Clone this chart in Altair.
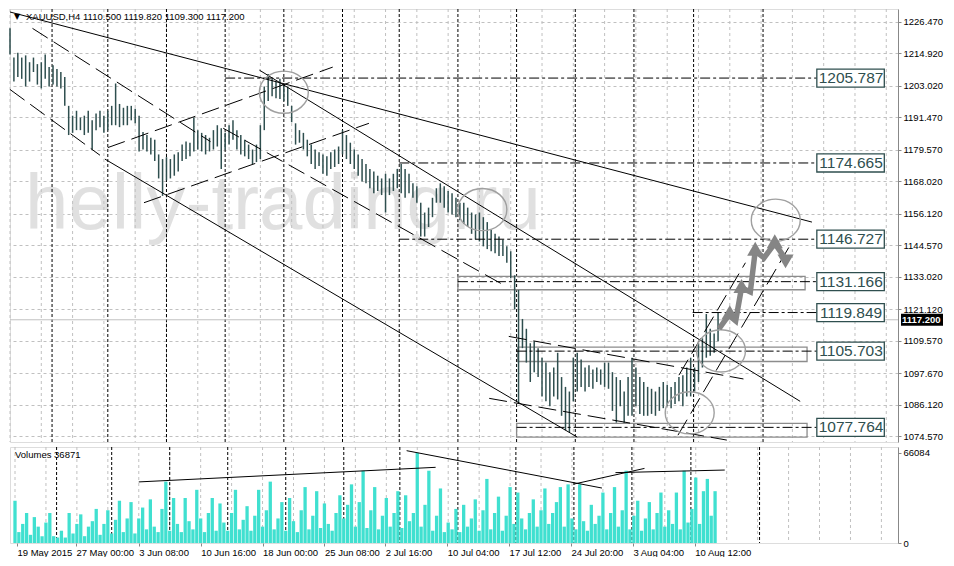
import altair as alt
import pandas as pd

W, HM, HV = 888, 433, 96

# ---------------- data ----------------
high = [
    1224.0, 1213.3, 1215.1, 1213.3, 1214.1, 1211.6, 1213.3, 1210.9, 1211.6, 1214.4,
    1209.8, 1210.5, 1209.1, 1208.0, 1206.2, 1195.6, 1192.0, 1193.8, 1191.3, 1192.0,
    1193.8, 1190.3, 1192.8, 1193.8, 1192.0, 1193.8, 1195.6, 1203.8, 1196.3, 1194.9,
    1195.6, 1195.6, 1194.5, 1192.0, 1186.0, 1184.9, 1183.9, 1183.2, 1177.8, 1176.1,
    1176.8, 1176.1, 1177.8, 1178.6, 1181.4, 1182.5, 1182.1, 1191.3, 1186.7, 1185.7,
    1184.9, 1183.9, 1186.7, 1188.5, 1187.4, 1185.7, 1188.5, 1190.3, 1186.7, 1184.9,
    1183.2, 1181.4, 1179.6, 1181.4, 1188.5, 1202.7, 1207.3, 1205.5, 1204.5, 1205.5,
    1203.4, 1202.7, 1195.6, 1189.2, 1186.7, 1185.7, 1183.2, 1181.4, 1179.6, 1178.6,
    1177.8, 1177.1, 1178.6, 1179.6, 1180.7, 1186.7, 1184.9, 1182.1, 1179.6, 1177.8,
    1176.1, 1174.3, 1172.5, 1171.5, 1170.0, 1169.0, 1170.7, 1169.0, 1170.7, 1172.5,
    1174.3, 1172.5, 1170.7, 1167.2, 1166.1, 1160.1, 1156.5, 1158.3, 1161.9, 1165.4,
    1167.2, 1166.1, 1164.4, 1163.6, 1161.9, 1160.1, 1160.1, 1158.3, 1156.5, 1155.8,
    1156.5, 1154.8, 1153.0, 1150.2, 1148.7, 1147.7, 1146.6, 1144.1, 1142.3, 1133.5,
    1128.1, 1117.5, 1113.9, 1108.6, 1109.3, 1106.8, 1103.3, 1101.5, 1098.0, 1099.7,
    1105.1, 1096.2, 1092.6, 1090.9, 1103.3, 1105.1, 1102.6, 1099.7, 1100.5, 1099.0,
    1099.7, 1099.0, 1101.5, 1101.5, 1098.0, 1096.2, 1095.1, 1090.9, 1096.2, 1103.3,
    1099.7, 1096.2, 1094.4, 1092.6, 1091.9, 1090.9, 1092.6, 1094.4, 1093.4, 1092.6,
    1094.4, 1096.2, 1096.9, 1099.7, 1103.3, 1099.7, 1108.6, 1110.4, 1119.3, 1113.9,
    1112.2, 1119.8,
]
low = [
    1214.4, 1204.5, 1206.2, 1205.5, 1202.7, 1204.5, 1208.0, 1203.4, 1202.0, 1205.5,
    1202.7, 1203.4, 1202.7, 1202.0, 1195.6, 1184.9, 1185.7, 1186.7, 1186.7, 1184.9,
    1185.7, 1179.6, 1186.7, 1187.8, 1185.7, 1186.7, 1188.5, 1188.5, 1187.8, 1188.5,
    1188.5, 1190.3, 1189.2, 1178.9, 1179.6, 1178.9, 1177.8, 1175.4, 1169.0, 1162.6,
    1168.3, 1169.0, 1170.0, 1171.5, 1175.4, 1176.1, 1177.1, 1178.9, 1179.6, 1178.9,
    1177.8, 1178.9, 1179.6, 1180.7, 1172.5, 1179.6, 1181.4, 1183.2, 1179.6, 1177.8,
    1177.1, 1176.1, 1174.3, 1175.0, 1176.1, 1186.7, 1197.4, 1199.1, 1198.4, 1198.1,
    1197.4, 1195.6, 1189.6, 1181.4, 1182.1, 1179.6, 1177.1, 1174.3, 1172.5, 1173.6,
    1170.7, 1170.0, 1172.5, 1173.2, 1174.3, 1177.8, 1176.1, 1174.3, 1172.5, 1170.0,
    1167.9, 1167.2, 1165.4, 1163.6, 1164.4, 1162.9, 1156.5, 1162.9, 1164.4, 1165.4,
    1163.6, 1161.9, 1163.6, 1161.9, 1160.1, 1147.7, 1147.7, 1151.2, 1154.8, 1160.1,
    1160.1, 1158.3, 1156.5, 1155.8, 1154.8, 1153.7, 1152.3, 1151.2, 1148.7, 1146.6,
    1145.9, 1144.1, 1143.1, 1142.3, 1141.6, 1140.6, 1140.6, 1138.1, 1132.4, 1121.0,
    1086.6, 1106.8, 1101.5, 1094.4, 1098.0, 1096.2, 1089.1, 1087.3, 1085.5, 1089.1,
    1088.0, 1082.0, 1076.7, 1076.0, 1087.3, 1090.9, 1092.6, 1090.9, 1092.6, 1091.9,
    1094.4, 1093.4, 1092.6, 1091.9, 1083.8, 1079.5, 1085.5, 1079.5, 1082.0, 1082.0,
    1085.5, 1082.7, 1082.0, 1082.0, 1082.7, 1082.0, 1083.8, 1084.8, 1085.5, 1084.8,
    1086.3, 1087.3, 1085.5, 1089.1, 1089.1, 1090.9, 1094.4, 1099.7, 1103.3, 1104.0,
    1105.1, 1109.3,
]
volume_k = [
    31, 8, 14, 22, 6, 19, 12, 5, 15, 22,
    5, 4, 9, 4, 22, 7, 14, 21, 5, 12,
    16, 25, 6, 14, 24, 7, 17, 31, 8, 18,
    30, 7, 18, 26, 10, 32, 12, 8, 25, 45,
    9, 33, 14, 8, 33, 16, 10, 39, 18, 8,
    22, 33, 9, 29, 15, 9, 22, 39, 10, 17,
    27, 9, 20, 39, 12, 24, 45, 10, 18, 30,
    9, 33, 16, 8, 24, 41, 10, 20, 38, 11,
    29, 14, 9, 22, 35, 18, 28, 43, 12, 30,
    53, 11, 24, 41, 10, 20, 33, 12, 22, 38,
    11, 35, 16, 22, 66.084, 12, 28, 53, 9, 20,
    40, 8, 15, 10, 25, 8, 28, 12, 18, 32,
    9, 24, 47, 10, 22, 34, 9, 20, 41, 14,
    37, 18, 10, 22, 32, 12, 24, 40, 14, 22,
    30, 41, 12, 43, 18, 10, 43, 16, 9, 28,
    14, 20, 37, 10, 22, 41, 12, 24, 53, 10,
    20, 31, 9, 18, 30, 10, 22, 37, 12, 24,
    14, 37, 10, 53, 15, 25, 48, 14, 38, 47,
    20, 38,
]
price_ticks = [1226.470, 1214.920, 1203.020, 1191.470, 1179.570, 1168.020, 1156.120,
               1144.570, 1133.020, 1121.120, 1109.570, 1097.670, 1086.120, 1074.570]
volume_ticks = [0, 66084]
time_labels = ["19 May 2015", "27 May 00:00", "3 Jun 08:00", "10 Jun 16:00", "18 Jun 00:00",
               "25 Jun 08:00", "2 Jul 16:00", "10 Jul 04:00", "17 Jul 12:00", "24 Jul 20:00",
               "3 Aug 04:00", "10 Aug 12:00"]
time_label_bars = [1, 31.5, 64, 96, 128, 160, 191.5, 223.5, 255.5, 287.5, 319.5, 351.5]
week_separators = [21.5, 50, 80, 110, 140, 170, 199, 229, 259, 289, 319, 349.5, 385]

levels = [1205.787, 1174.665, 1146.727, 1131.166, 1119.849, 1105.703, 1077.764]
level_start = [110, 199, 199, 229, 349, 259, 259]
zone_top = [1133.1, 1107.2, 1079.2]
zone_bottom = [1128.2, 1101.9, 1074.2]
zone_start = [229, 259.5, 259]
zone_end = [406.5, 407.5, 407.5]
bid_price = 1117.2

# trend lines: (bar1, price1, bar2, price2)
solid_lines = [(0, 1230.0, 410, 1153.0), (127.5, 1208.7, 404, 1087.3), (48.5, 1176.1, 290, 1074.2)]
dashed_lines = [(11.5, 1224.0, 102.5, 1182.5), (0, 1201.6, 46, 1177.5),
                (109, 1187.4, 252.5, 1129.9), (255, 1111.1, 375, 1095.5),
                (245, 1088.4, 366.5, 1073.1), (50, 1180.3, 165, 1209.8),
                (68.5, 1160.1, 183.5, 1189.2), (342, 1096.9, 376, 1138.1),
                (341.5, 1074.9, 398.5, 1144.1)]
circle_bar = [140, 241.5, 363.5, 347.5, 391.5]
circle_price = [1200.6, 1157.6, 1105.8, 1083.1, 1153.7]
arrow_bar = [362.5, 367.5, 371, 374, 378.5, 381, 385.5, 391, 396.5]
arrow_price = [1113.9, 1118.9, 1116.8, 1128.9, 1127.4, 1142.4, 1139.9, 1145.2, 1139.5]
arrow_head_bar = [368, 374, 381, 391, 396.5]
arrow_head_price = [1120.0, 1129.6, 1143.2, 1146.0, 1138.6]
arrow_head_shape = ["triangle-up", "triangle-up", "triangle-up", "triangle-up", "triangle-down"]
# volume trend lines: (bar1, vol1, bar2, vol2)
volume_lines = [(64, 44800, 217.5, 55500), (202.5, 67700, 303.5, 40300),
                (289, 43200, 325.5, 54700), (310.5, 51600, 367, 53500)]

# ---------------- frames ----------------
bars_df = pd.DataFrame({"bar": [2 * i for i in range(len(high))], "high": high, "low": low})
vol_df = pd.DataFrame({"bar": [2 * i for i in range(len(volume_k))],
                       "vol": [v * 1000 for v in volume_k]})
grid_df = pd.DataFrame({"bar": list(range(0, 455, 16))})
week_df = pd.DataFrame({"bar": week_separators})
lvl_df = pd.DataFrame({"p": levels, "x1": level_start, "x2": [412.5] * len(levels),
                       "lo": [p - 3.3 for p in levels], "hi": [p + 3.3 for p in levels],
                       "txt": [f"{p:.3f}" for p in levels]})
zone_df = pd.DataFrame({"x1": zone_start, "x2": zone_end, "top": zone_top, "bot": zone_bottom})
cols = ["x1", "y1", "x2", "y2"]
solid_df = pd.DataFrame(solid_lines, columns=cols)
dash_df = pd.DataFrame(dashed_lines, columns=cols)
vline_df = pd.DataFrame(volume_lines, columns=cols)
circ_df = pd.DataFrame({"bar": circle_bar, "p": circle_price})
arrow_df = pd.DataFrame({"bar": arrow_bar, "p": arrow_price, "k": list(range(len(arrow_bar)))})
head_df = pd.DataFrame({"bar": arrow_head_bar, "p": arrow_head_price, "s": arrow_head_shape})

xs = alt.Scale(domain=[0, 454], nice=False, zero=False)
ys = alt.Scale(domain=[1072.4, 1231.1], nice=False, zero=False)
vs = alt.Scale(domain=[0, 70400], nice=False, zero=True)
FONT = "Liberation Sans"
BAR_COLOR = "#2f4f4f"

yaxis = alt.Axis(orient="right", values=price_ticks, format=".3f", title=None, grid=True,
                 gridColor="#c0c0c0", gridDash=[3, 3], gridWidth=1, tickSize=3,
                 labelPadding=2, labelFontSize=9.5, labelFont=FONT, labelOverlap=False)
label_expr = f"{time_labels}[indexof({time_label_bars}, datum.value)]"
xaxis = alt.Axis(orient="bottom", values=time_label_bars, labelExpr=label_expr, labelAlign="left",
                 title=None, grid=False, domain=False, tickSize=3, labelPadding=1,
                 labelFontSize=9.5, labelFont=FONT, labelFlush=False, labelOverlap=False)
vaxis = alt.Axis(orient="right", values=volume_ticks, format="d", title=None, grid=False,
                 tickSize=3, labelPadding=2, labelFontSize=9.5, labelFont=FONT)


def xq(f):
    return alt.X(f, type="quantitative", scale=xs, axis=None)


def yq(f):
    return alt.Y(f, type="quantitative", scale=ys, axis=yaxis)


def xv(f):
    return alt.X(f, type="quantitative", scale=xs, axis=xaxis)


def vq(f):
    return alt.Y(f, type="quantitative", scale=vs, axis=vaxis)


watermark = alt.Chart(pd.DataFrame({"t": ["helly-trading.ru"]})).mark_text(
    align="left", baseline="alphabetic", fontSize=78, font=FONT, color="#e0e0e0"
).encode(x=alt.value(15), y=alt.value(220), text="t:N")

gridv = alt.Chart(grid_df).mark_rule(color="#c0c0c0", strokeDash=[3, 3], strokeWidth=1).encode(x=xq("bar"))
weekv = alt.Chart(week_df).mark_rule(color="black", strokeDash=[3, 2], strokeWidth=1).encode(x=xq("bar"))
bid = alt.Chart(pd.DataFrame({"p": [bid_price]})).mark_rule(color="#c0c0c0", strokeWidth=1).encode(y=yq("p"))

zones = alt.Chart(zone_df).mark_rect(fillOpacity=0, stroke="#8c8c8c", strokeWidth=1.3).encode(
    x=xq("x1"), x2="x2", y=yq("top"), y2="bot")

price_bars = alt.Chart(bars_df).mark_rule(color=BAR_COLOR, strokeWidth=1.5).encode(
    x=xq("bar"), y=yq("high"), y2="low:Q")

solid = alt.Chart(solid_df).mark_rule(color="black", strokeWidth=1).encode(
    x=xq("x1"), y=yq("y1"), x2="x2", y2="y2")
dashed = alt.Chart(dash_df).mark_rule(color="black", strokeWidth=1, strokeDash=[18, 7]).encode(
    x=xq("x1"), y=yq("y1"), x2="x2", y2="y2")
lvl_lines = alt.Chart(lvl_df).mark_rule(color="black", strokeWidth=1, strokeDash=[10, 3, 3, 3]).encode(
    x=xq("x1"), x2="x2", y=yq("p"))

ellipse = "M-1,0A1,0.86,0,1,1,1,0A1,0.86,0,1,1,-1,0Z"
circles = alt.Chart(circ_df).mark_point(shape=ellipse, size=2400, filled=False, color="#a0a0a0",
                                        strokeWidth=1.4, opacity=1).encode(x=xq("bar"), y=yq("p"))

arrow = alt.Chart(arrow_df).mark_line(color="#858585", strokeWidth=5.5, strokeJoin="miter").encode(
    x=xq("bar"), y=yq("p"), order="k:Q")
heads = alt.Chart(head_df).mark_point(filled=True, size=260, color="#858585", opacity=1).encode(
    x=xq("bar"), y=yq("p"), shape=alt.Shape("s:N", scale=None))

boxes = alt.Chart(lvl_df).mark_rect(fill="white", stroke=BAR_COLOR, strokeWidth=1.3).encode(
    x=xq("x2"), x2=alt.datum(447), y=yq("lo"), y2="hi")
box_text = alt.Chart(lvl_df).mark_text(fontSize=15.5, font=FONT, color=BAR_COLOR,
                                       baseline="middle").encode(
    x=alt.X(datum=430, type="quantitative", scale=xs, axis=None), y=yq("p"), text="txt:N")

bid_box = alt.Chart(pd.DataFrame({"p": [bid_price]})).mark_tick(
    color="black", thickness=12, size=42, opacity=1, orient="horizontal").encode(
    y=yq("p"), x=alt.value(W + 24))
bid_text = alt.Chart(pd.DataFrame({"p": [bid_price], "t": ["1117.200"]})).mark_text(
    color="white", fontSize=9.5, font=FONT, align="left", baseline="middle", fontWeight="bold").encode(
    y=yq("p"), x=alt.value(W + 4), text="t:N")

title_txt = alt.Chart(pd.DataFrame({"t": ["XAUUSD,H4  1110.500 1119.820 1109.300 1117.200"]})).mark_text(
    align="left", baseline="middle", fontSize=9.5, font=FONT, color="black").encode(
    x=alt.value(16), y=alt.value(8), text="t:N")
tri_txt = alt.Chart(pd.DataFrame({"t": ["▼"]})).mark_text(
    align="left", baseline="middle", fontSize=8, font="DejaVu Sans", color="black").encode(
    x=alt.value(4), y=alt.value(8), text="t:N")

main = alt.layer(
    watermark, gridv, weekv, bid, zones, price_bars, solid, dashed, lvl_lines,
    circles, arrow, heads, boxes, box_text, bid_box, bid_text, title_txt, tri_txt
).properties(width=W, height=HM)

# ---------------- volume panel ----------------
vgrid = alt.Chart(grid_df).mark_rule(color="#c0c0c0", strokeDash=[3, 3], strokeWidth=1).encode(x=xv("bar"))
vweek = alt.Chart(week_df).mark_rule(color="black", strokeDash=[3, 2], strokeWidth=1).encode(x=xv("bar"))
vbars = alt.Chart(vol_df).mark_bar(width=3.3, color="#40e0d0", orient="vertical").encode(
    x=xv("bar"), y=vq("vol"))
vlines = alt.Chart(vline_df).mark_rule(color="black", strokeWidth=1).encode(
    x=xv("x1"), y=vq("y1"), x2="x2", y2="y2")
vtitle = alt.Chart(pd.DataFrame({"t": ["Volumes 36871"]})).mark_text(
    align="left", baseline="middle", fontSize=9.5, font=FONT, color="black").encode(
    x=alt.value(5), y=alt.value(8), text="t:N")

volume = alt.layer(vgrid, vweek, vbars, vlines, vtitle).properties(width=W, height=HV)

chart = alt.vconcat(main, volume, spacing=3).properties(
    padding={"left": 0, "top": 0, "right": 0, "bottom": 0}
).configure_view(stroke="black", strokeWidth=1).configure_axis(
    labelColor="black", tickColor="black", domainColor="black"
).configure(background="white")

chart.save("out.html", embed_options={"renderer": "svg", "actions": False})
